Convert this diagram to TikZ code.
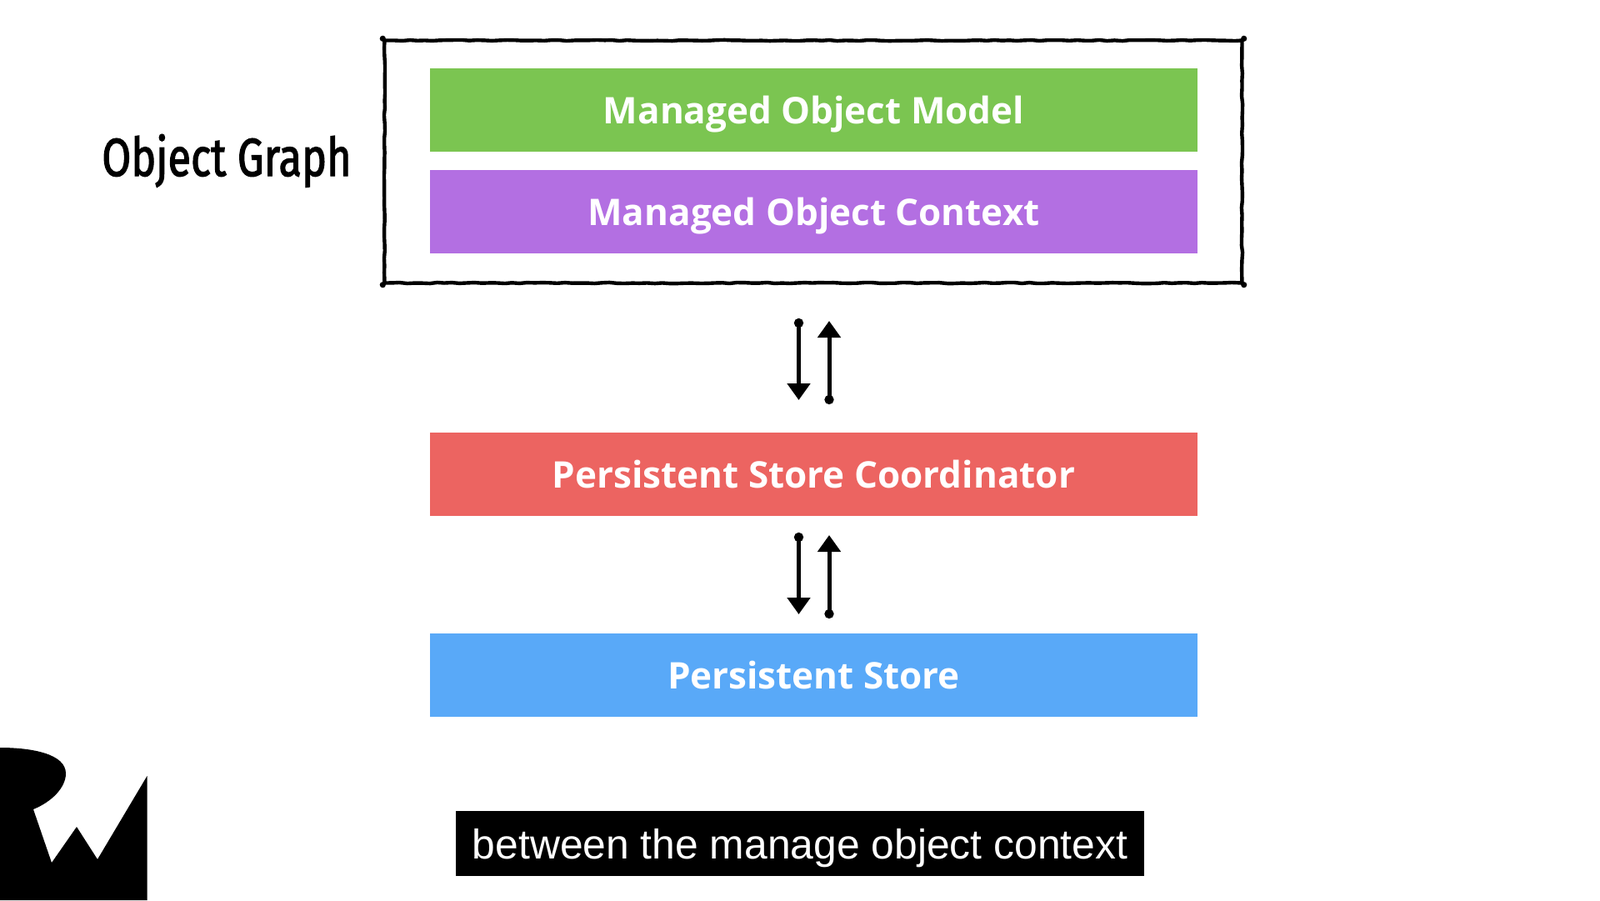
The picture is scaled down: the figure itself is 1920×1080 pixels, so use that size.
\documentclass[tikz,border=0pt]{standalone}
\usepackage{fontspec}
\setmainfont{Open Sans}
\newfontfamily\capfont{Liberation Sans}
\newfontfamily\handfont[FakeBold=2.2]{Fira Sans}
\usetikzlibrary{arrows.meta,decorations.pathmorphing}
\definecolor{cgreen}{HTML}{7BC551}
\definecolor{cpurple}{HTML}{B36FE2}
\definecolor{cred}{HTML}{EC6461}
\definecolor{cblue}{HTML}{59A9F8}
\tikzset{
  x=1pt,y=-1pt,
  layer/.style={minimum width=920.5pt,minimum height=100pt,inner sep=0pt,text height=33.5pt,text depth=0pt,text=white,font=\fontsize{44}{50}\selectfont\bfseries},
  sketch/.style={draw=black,line width=4.4pt,line cap=round,line join=round,decorate,decoration={random steps,segment length=9pt,amplitude=0.6pt}},
  flow/.style={draw=black,line width=5pt,{Circle[length=11pt,width=11pt]}-{Triangle[length=20pt,width=27pt]}},
  cornerdot/.style={fill=black,radius=3.6pt},
}
\begin{document}
\begin{tikzpicture}
\useasboundingbox (0,0) rectangle (1920,1080);
\fill[white] (0,0) rectangle (1920,1080);
\node[sketch,minimum width=1029pt,minimum height=291pt,inner sep=0pt] (graph) at (976,194) {};
\fill[cornerdot] (graph.north west) circle[];
\fill[cornerdot] (graph.north east) circle[];
\fill[cornerdot] (graph.south west) circle[];
\fill[cornerdot] (graph.south east) circle[];
\node[layer,fill=cgreen] (model) at (976.5,131.5) {Managed Object Model};
\node[layer,fill=cpurple] (context) at (976.5,253.5) {Managed Object Context};
\node[layer,fill=cred] (coord) at (976.5,569) {Persistent Store Coordinator};
\node[layer,fill=cblue] (store) at (976.5,810) {Persistent Store};
\node[font=\handfont\fontsize{64}{66}\selectfont,inner sep=0pt,xscale=0.79,anchor=base] (label) at (272,211) {Object Graph};
\coordinate (a1s) at (958.5,382); \coordinate (a1e) at (958.5,480);
\coordinate (a2s) at (995,485); \coordinate (a2e) at (995,385);
\coordinate (b1s) at (958.5,639); \coordinate (b1e) at (958.5,737);
\coordinate (b2s) at (995,742); \coordinate (b2e) at (995,642);
\draw[flow] (a1s) -- (a1e);
\draw[flow] (a2s) -- (a2e);
\draw[flow] (b1s) -- (b1e);
\draw[flow] (b2s) -- (b2e);
\node[fill=black,text=white,minimum width=826pt,minimum height=78pt,inner sep=0pt,text height=36pt,text depth=0pt,font=\capfont\fontsize{49.8}{56}\selectfont] (caption) at (960,1012) {between the manage object context};
\fill[black] (0,897) .. controls (40,897) and (79,905) .. (79,928) .. controls (79,945) and (62,962) .. (40,971) -- (62,1035) -- (92,992) -- (117,1031) -- (176.5,931) -- (176.5,1080) -- (0,1080) -- cycle;
\end{tikzpicture}
\end{document}
